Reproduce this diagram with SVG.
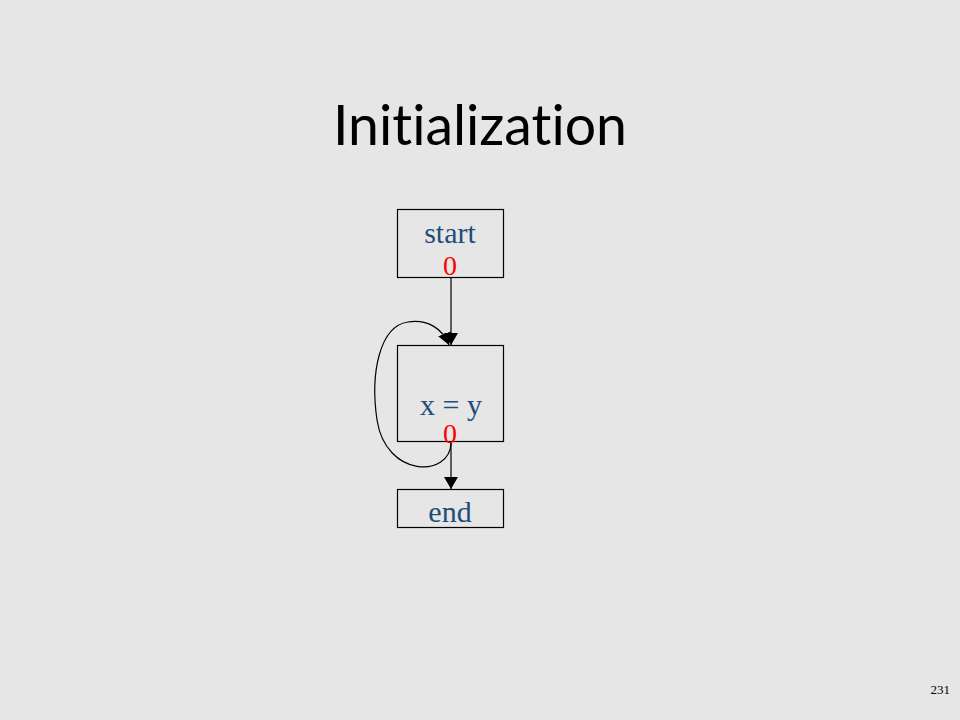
<svg xmlns="http://www.w3.org/2000/svg" width="960" height="720" viewBox="0 0 960 720">
  <style>
    .box { fill: none; stroke: #000; stroke-width: 1.2; }
    .lbl { font-family: "Liberation Serif", "Times New Roman", serif; font-size: 30px; fill: #1f4e79; text-anchor: middle; }
    .val { font-family: "Liberation Serif", "Times New Roman", serif; font-size: 28px; fill: #ff0000; text-anchor: middle; }
    .edge { fill: none; stroke: #000; stroke-width: 1.2; }
  </style>
  <defs>
    <marker id="arrow" viewBox="0 0 12 14" refX="12" refY="7" markerWidth="12" markerHeight="14" markerUnits="userSpaceOnUse" orient="auto">
      <path d="M0,0 L12,7 L0,14 Z" fill="#000"/>
    </marker>
  </defs>
  <rect x="0" y="0" width="960" height="720" fill="#e6e6e6"/>
  <text x="480" y="145" font-family="Lato, 'Open Sans', sans-serif" font-size="57" fill="#000" text-anchor="middle" textLength="294" lengthAdjust="spacingAndGlyphs" style="font-variant-ligatures: none; font-feature-settings: 'liga' 0;">Initialization</text>

  <g id="connectors">
    <path class="edge" d="M451,277 L451,345" marker-end="url(#arrow)"/>
    <path class="edge" d="M451,443 C450,478 386,478 377,420 C370,372 380,326 408,322 C428,319 443,329 449,345" marker-end="url(#arrow)"/>
    <path class="edge" d="M451,443 L451,489" marker-end="url(#arrow)"/>
  </g>

  <g id="node-start">
    <rect class="box" x="397.5" y="209.5" width="106" height="68"/>
    <text class="lbl" x="450" y="243">start</text>
    <text class="val" x="450" y="275">0</text>
  </g>
  <g id="node-assign">
    <rect class="box" x="397.5" y="345.5" width="106" height="96"/>
    <text class="lbl" x="451" y="415">x = y</text>
    <text class="val" x="450" y="443">0</text>
  </g>
  <g id="node-end">
    <rect class="box" x="397.5" y="489.5" width="106" height="38"/>
    <text class="lbl" x="450" y="522">end</text>
  </g>

  <text x="950" y="694" font-family="'Liberation Serif', serif" font-size="13" fill="#000" text-anchor="end">231</text>
</svg>
